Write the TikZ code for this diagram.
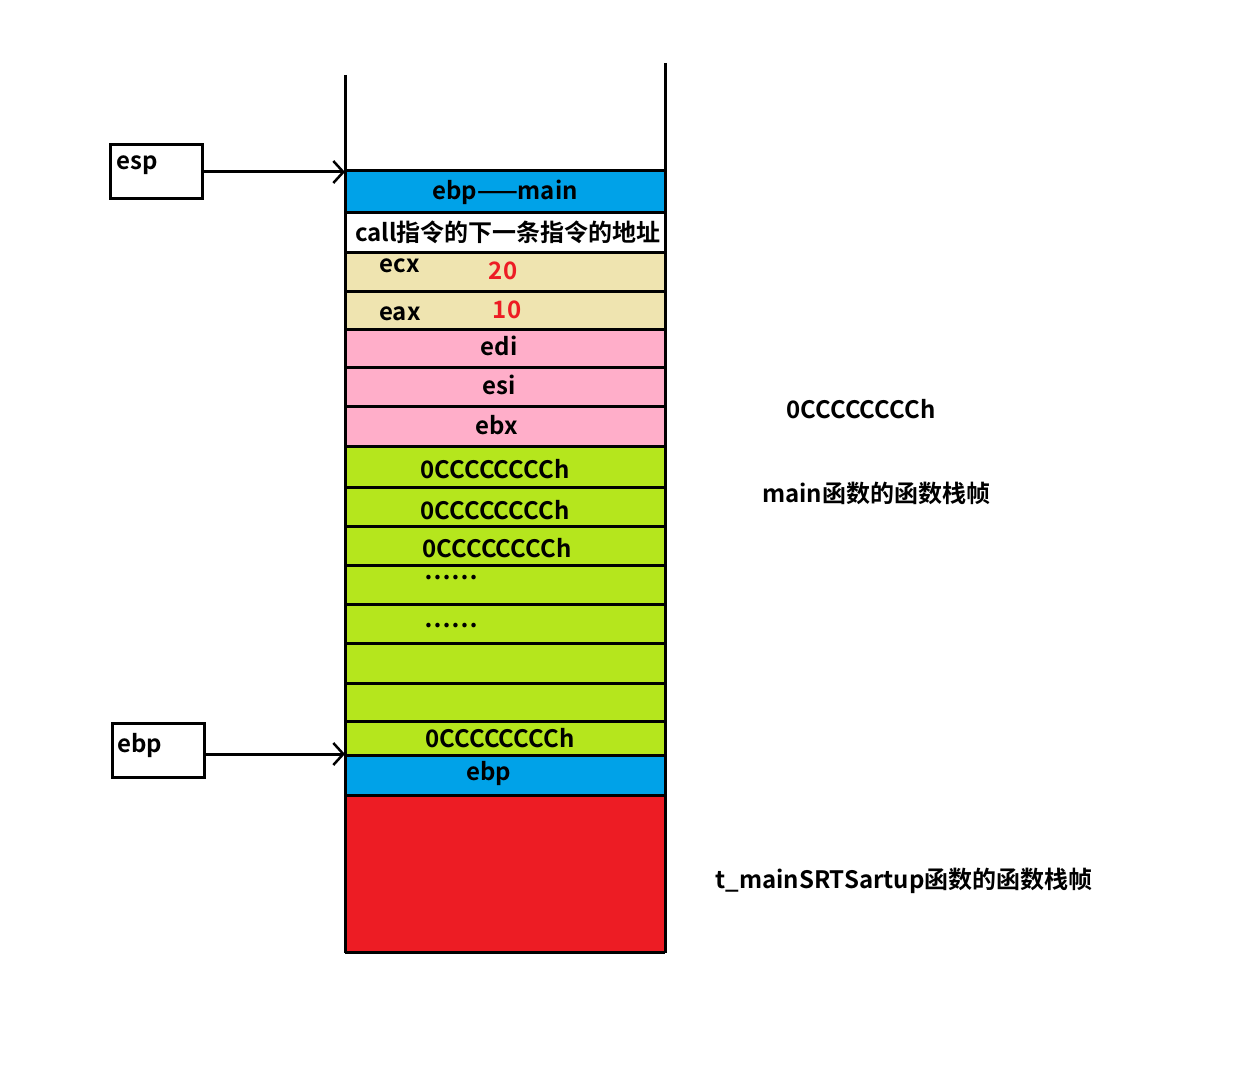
\documentclass[tikz,border=0pt]{standalone}
\usepackage{fontspec}
\setmainfont{Noto Sans CJK SC}[BoldFont={* Bold}]
\usetikzlibrary{arrows.meta}
\definecolor{cb}{HTML}{00A2E8}\definecolor{ct}{HTML}{EFE4B0}
\definecolor{cp}{HTML}{FFAEC9}\definecolor{cg}{HTML}{B5E61D}\definecolor{cr}{HTML}{ED1C24}
\begin{document}
\begin{tikzpicture}[x=1pt,y=-1pt,
  cell/.style={draw=black,line width=3pt},
  t/.style={font=\bfseries\fontsize{24}{26}\selectfont,inner sep=0},
  box/.style={draw,line width=3pt,minimum width=92pt,minimum height=54pt,anchor=north west,inner sep=4pt,text depth=0pt},
  arr/.style={line width=3pt,-{Straight Barb[length=10pt,width=22pt,line width=2.5pt]}}]
\useasboundingbox (0,0) rectangle (1252,1078);
\foreach \a/\b/\c in {171/212/cb,212/252/white,252/291/ct,291/329/ct,329/367/cp,367/406/cp,406/446/cp,446/487/cg,487/526/cg,526/565/cg,565/604/cg,604/643/cg,643/683/cg,683/721/cg,721/755/cg,755/795/cb,795/952/cr}
  \fill[\c] (345,\a) rectangle (665,\b);
\foreach \y in {171,212,252,291,329,367,406,446,487,526,565,604,643,683,721,755,795,952}
  \draw[line width=3pt] (345,\y) -- (665,\y);
\draw[line width=3pt] (345,75) -- (345,953);
\draw[line width=3pt] (665,63) -- (665,953);
\node[t] at (505,192) {ebp——main};
\node[t] at (508,232) {call指令的下一条指令的地址};
\node[t] at (400,266) {ecx};
\node[t,text=cr] at (503,271) {20};
\node[t] at (400,314) {eax};
\node[t,text=cr] at (507,310) {10};
\node[t] at (499,346) {edi};
\node[t] at (499,385) {esi};
\node[t] at (497,425) {ebx};
\node[t] at (495,469) {0CCCCCCCCh};
\node[t] at (495,510) {0CCCCCCCCh};
\node[t] at (497,548) {0CCCCCCCCh};
\node[t] at (451,578) {……};
\node[t] at (451,626) {……};
\node[t] at (500,738) {0CCCCCCCCh};
\node[t] at (489,773) {ebp};
\node[t] at (861,409) {0CCCCCCCCh};
\node[t] at (876,493) {main函数的函数栈帧};
\node[t] at (904,881) {t\_mainSRTSartup函数的函数栈帧};
\node[box,t,anchor=north west,align=left,text width=80pt,inner sep=6pt,minimum height=54pt] (esp) at (109,143) {};
\node[t,anchor=west] at (116,165) {esp};
\node[box,t,anchor=north west,text width=80pt,inner sep=6pt] (ebp) at (111,722) {};
\node[t,anchor=west] at (117,745) {ebp};
\coordinate (e1) at (345,172);
\coordinate (e2) at (345,754);
\draw[arr] (esp.east |- e1) -- (e1);
\draw[arr] (ebp.east |- e2) -- (e2);
\end{tikzpicture}
\end{document}
